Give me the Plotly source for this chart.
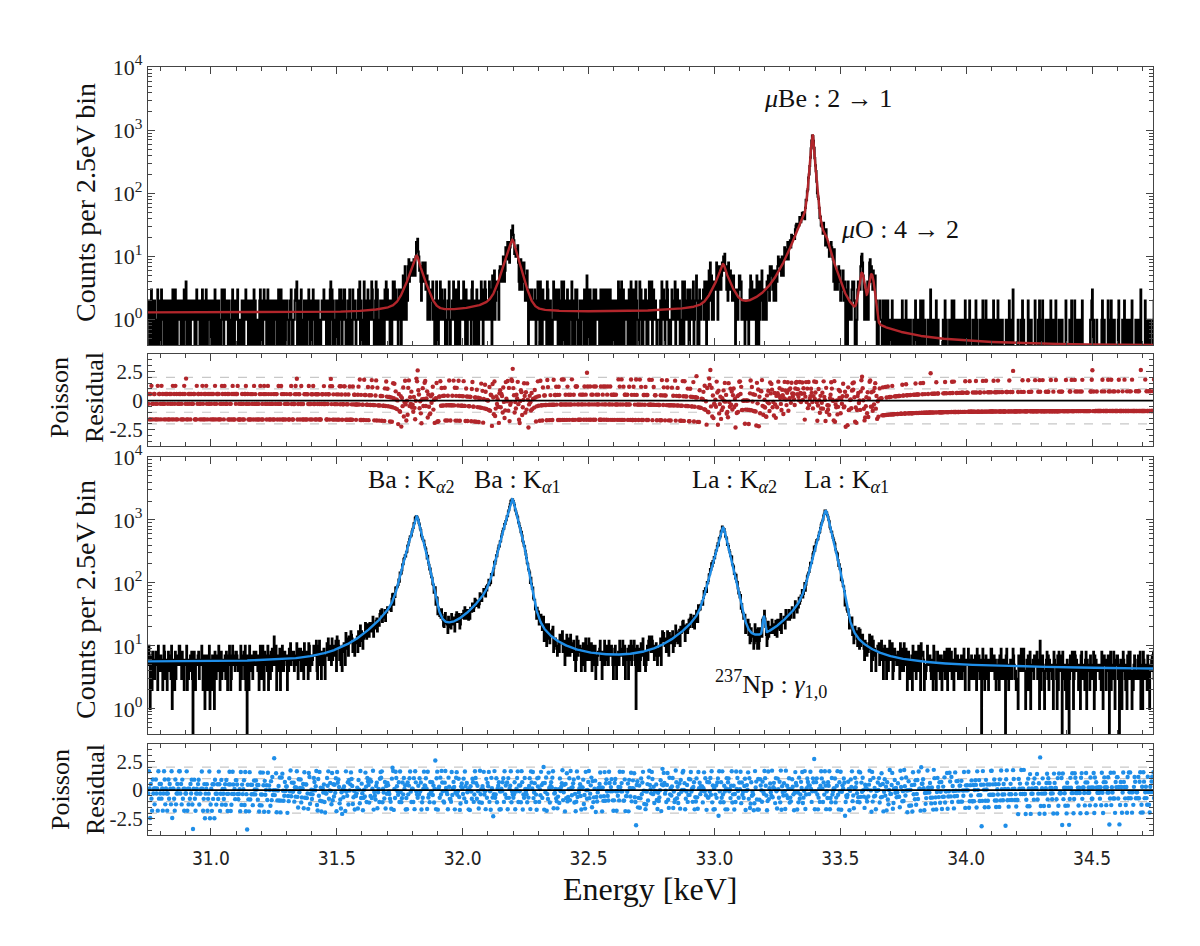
import math
import numpy as np
import plotly.graph_objects as go

# ---------------- data -----------------
E_LO, E_HI = 30.75, 34.75
BIN_KEV = 0.0025
N_BINS = 1600

# per-bin Poisson quantile readings (digit d -> (d+0.5)/10 ; a,b,y,z = extreme lows/highs)
# one line = 0.1 keV = 40 bins
TOP_Q = [
    "4817295036 7140592863 1958304726 6302847159",
    "2749160538 5813062974 y041738265 3586201947",
    "7305829416 0694273581 4628059137 8172503964",
    "1963457082 3508916274 6791320458 0426795381",
    "5280736194 8235140697 2317964805 9614083527",
    "0847613952 4961728305 7530286941 235897y146",
    "6139504287 1726394058 0894517263 7041256839",
    "3572048619 y480615327 5162839704 4897031562",
    "8024193765 2357849160 3409671528 1635798240",
    "4691852037 7063218495 8275046139 5928614073",
    "2706381594 0518936472 416305y9z8 7241068359",
    "9358064127 3682415790 1057928463 6814307295",
    "1437295806 8149603725 6y23185074 3570892416",
    "6082514739 2705398146 4381760952 9126453078",
    "3761840295 5928034y9z 8614275930 0487135962",
    "7295036418 1463870259 3709541826 6251984037",
    "0514927683 6087143925 9246308571 4739026518",
    "8940316257 3719562z84 0582637194 2865473109",
    "2379058416 9245817306 7136405928 5092381674",
    "5603841972 0874296531 2948150763 861703y245",
    "9148267305 4531709628 6075983142 1384652907",
    "3826704159 7196352840 1853269047 7y50418326",
    "6471935082 2y9z380614 4529708136 0263849571",
    "1095384726 8350417269 9782154603 5416027938",
    "4732610958 0627893145 3016485297 9825174063",
    "7968542871 6985379286 8497675389 9786597479",
    "5870694829 3568742695 7940385162 4729650813",
    "2316798540 9042513867 1537924806 6081345279",
    "8950213674 5279y85301 4628059y37 3174892605",
    "0687452913 1836094752 7093218546 2458703196",
    "6203987145 4710258369 2865741930 8932615047",
    "345z170826 7395682014 5048369271 1506473982",
    "9014836257 0268475193 8761290435 6347198520",
    "1782049563 5940736128 3219584706 9075326814",
    "5326781094 8157z20346 6475013829 2830641597",
    "8657023419 2413869705 0926437158 7162905384",
    "2091564738 6784315092 4350871962 0498537126",
    "7438915620 3056142879 z183026745 4615289037",
    "0265398471 9627083514 1794650283 3952074618",
    "4819650327 1382756z40 6502917348 5286413790",
]

BOT_Q = [
    "395b720846 1583609274 7260498153 04827619b5",
    "6208147359 9471825063 3905162748 1a58204637",
    "8143596027 b4670239b1 50726b8413 7296048153",
    "2571830469 6013974528 8642350917 3581904a72",
    "0926471385 3857260194 1497083562 9064172835",
    "z359024618 0289513746 6031859274 4715369208",
    "4681357092 7624098135 2358746910 8392501647",
    "1034869257 5192736480 97861204b5 2650943718",
    "5798612403 3460851927 4025396187 6183725904",
    "3267045189 8915427063 76432108y9 0529864371",
    "9412738560 2073689415 5180974326 3847012596",
    "6850923174 473615z089 0562839741 1795430862",
    "2193576048 9348201675 3829617450 5064287139",
    "8726401935 1659340827 69140852b3 9238156704",
    "0547819362 7082569143 2370458916 4619703285",
    "4315268097 5924713086 81539627y0 7480329516",
    "7689034521 0351846792 4607291358 2953678140",
    "1928457306 6813094257 9246807135 8031465792",
    "5062391784 3297568410 1785043629 6574912803",
    "3470862915 85931a6702 6028379514 0147289653",
    "9836154720 4125807y69 7451692083 5368041297",
    "2613708459 9570246138 3894516702 1820957364",
    "6159483072 2748391605 036278b941 7293164058",
    "0784526913 6031958427 5917342680 4659280173",
    "4301967208 0286517439 8630192574 3926751840",
    "8527190643 7409362581 2158630497 6041823759",
    "1249035876 36951487z0 4783025169 8517396042",
    "7690218345 5812693074 9046587b13 2375048691",
    "3058674129 1937485206 6215379840 9182630457",
    "5816392704 8360721594 3790158462 4723096815",
    "2963840571 4517093628 14829650y7 7850412396",
    "6472153098 1304862715 7036281549 0259738164",
    "0395728146 6281539407 5649017382 2714860953",
    "8137a29650 2856104739 9473826015 3608195427",
    "46a8915032 7315986240 1208573964 5943027186",
    "1904637285 5692470z13 6831045792 8176352409",
    "7562081934 38a9264150 715a286394 0298473615",
    "3089256417 9074531862 2690817543 6425193078",
    "5716384a29 1643920758 836a175049 7531608294",
    "9240516873 4538279016 0972463185 1064785932",
]

# fitted-model parameters (energies/widths in keV)
XRAY_NAMES = ["Ba Ka2", "Ba Ka1", "La Ka2", "La Ka1"]
XRAY_E = [31.817, 32.197, 33.034, 33.442]
TOP_XRAY_A = [9.0, 17.0, 6.0, 11.0]
BOT_XRAY_A = [1130.0, 2130.0, 750.0, 1390.0]
XRAY_SHAPE = [0.013, 0.032, 0.58]        # lorentz gamma, gauss sigma, lorentz fraction
XRAY_TAIL = [0.075, 0.085]               # low-energy tail fraction, decay
NP_LINE = [33.196, 14.0, 0.004]          # centre, amplitude, sigma
BOT_BG = [5.45, -0.31]                   # offset at 30.75 keV, slope per keV
TOP_BG = [1.30, 0.38]                    # below / above muBe line
MUBE_LINE = [33.390, 850.0, 0.0065, 0.012, 0.85]
MUBE_TAIL = [79.0, 0.040]
MUO_E = [33.586, 33.624]
MUO_A = [4.3, 4.3]
MUO_SIG = 0.010

QMAP = {"a": 0.001, "b": 0.015, "y": 0.975, "z": 0.997}


def pvoigt(E, c, A, gam, sig, eta):
    d = E - c
    return A * (eta / (1 + (d / gam) ** 2) + (1 - eta) * np.exp(-d * d / (2 * sig * sig)))


def low_tail(E, c, A, frac, tau):
    d = E - c
    return A * frac * np.exp(np.minimum(d, 0) / tau) / (1 + np.exp((d + 0.03) / 0.01))


def top_model(E):
    E = np.asarray(E, float)
    c = MUBE_LINE[0]
    m = TOP_BG[0] + (TOP_BG[1] - TOP_BG[0]) * 0.5 * (1 + np.tanh((E - c) / 0.005))
    for e0, a in zip(XRAY_E, TOP_XRAY_A):
        m = m + pvoigt(E, e0, a, *XRAY_SHAPE) + low_tail(E, e0, a, *XRAY_TAIL)
    m = m + pvoigt(E, c, MUBE_LINE[1], MUBE_LINE[2], MUBE_LINE[3], MUBE_LINE[4])
    d = E - c
    m = m + MUBE_TAIL[0] * np.exp(np.minimum(d, 0) / MUBE_TAIL[1]) / (1 + np.exp((d + 0.035) / 0.008))
    for e0, a in zip(MUO_E, MUO_A):
        m = m + a * np.exp(-(E - e0) ** 2 / (2 * MUO_SIG ** 2))
    return m


def bot_model(E):
    E = np.asarray(E, float)
    m = BOT_BG[0] + BOT_BG[1] * (E - E_LO)
    for e0, a in zip(XRAY_E, BOT_XRAY_A):
        m = m + pvoigt(E, e0, a, *XRAY_SHAPE) + low_tail(E, e0, a, *XRAY_TAIL)
    m = m + NP_LINE[1] * np.exp(-(E - NP_LINE[0]) ** 2 / (2 * NP_LINE[2] ** 2))
    return m


def norm_ppf(u):
    lo, hi = -9.0, 9.0
    for _ in range(70):
        mid = 0.5 * (lo + hi)
        if 0.5 * (1 + math.erf(mid / math.sqrt(2))) < u:
            lo = mid
        else:
            hi = mid
    return 0.5 * (lo + hi)


def pois_quantile(u, mu):
    if mu < 60:
        k = 0
        p = math.exp(-mu)
        c = p
        while c < u and k < 2000:
            k += 1
            p *= mu / k
            c += p
        return k
    return max(0, int(round(mu + norm_ppf(u) * math.sqrt(mu))))


def decode(lines, model):
    s = "".join(l.replace(" ", "") for l in lines)
    s = (s + "5" * N_BINS)[:N_BINS]
    u = [QMAP[ch] if ch in QMAP else (int(ch) + 0.5) / 10 for ch in s]
    centers = E_LO + BIN_KEV * (np.arange(N_BINS) + 0.5)
    mu = model(centers)
    n = np.array([pois_quantile(ui, mi) for ui, mi in zip(u, mu)])
    return centers, mu, n


def deviance(n, mu):
    n = n.astype(float)
    with np.errstate(divide="ignore", invalid="ignore"):
        t = np.where(n > 0, n * np.log(np.where(n > 0, n, 1) / mu), 0.0)
    val = 2 * (mu - n + t)
    return np.sign(n - mu) * np.sqrt(np.maximum(val, 0))


edges = E_LO + BIN_KEV * np.arange(N_BINS + 1)
c_top, mu_top, n_top = decode(TOP_Q, top_model)
c_bot, mu_bot, n_bot = decode(BOT_Q, bot_model)
r_top = deviance(n_top, mu_top)
r_bot = deviance(n_bot, mu_bot)

E_fine = np.linspace(E_LO, E_HI, 4001)

# --------------- layout helpers ---------------
PL, PR, PT, PB = 148, 1153, 67, 835


def fx(px):
    return (px - PL) / (PR - PL)


def fy(py):
    return 1 - (py - PT) / (PB - PT)


RED = "#b2262b"
BLUE = "#1f8ee8"
AXC = "#444444"
SERIF = "Liberation Serif, Times New Roman, serif"
NARROW = "Liberation Sans Narrow, DejaVu Sans Condensed, Liberation Sans, sans-serif"


def step_xy(n):
    y = np.where(n > 0, n, 1e-3).astype(float)
    return edges, np.append(y, y[-1])


fig = go.Figure()

xs, ys = step_xy(n_top)
fig.add_trace(go.Scatter(x=xs, y=ys, mode="lines", line=dict(color="black", width=2.2, shape="hv"),
                         xaxis="x", yaxis="y", hoverinfo="skip", showlegend=False))
fig.add_trace(go.Scatter(x=E_fine, y=top_model(E_fine), mode="lines", line=dict(color=RED, width=2.4),
                         xaxis="x", yaxis="y", showlegend=False))
fig.add_trace(go.Scatter(x=c_top, y=r_top, mode="markers", marker=dict(color=RED, size=4.4),
                         xaxis="x2", yaxis="y2", showlegend=False))

xs, ys = step_xy(n_bot)
fig.add_trace(go.Scatter(x=xs, y=ys, mode="lines", line=dict(color="black", width=2.2, shape="hv"),
                         xaxis="x3", yaxis="y3", hoverinfo="skip", showlegend=False))
fig.add_trace(go.Scatter(x=E_fine, y=bot_model(E_fine), mode="lines", line=dict(color=BLUE, width=2.4),
                         xaxis="x3", yaxis="y3", showlegend=False))
fig.add_trace(go.Scatter(x=c_bot, y=r_bot, mode="markers", marker=dict(color=BLUE, size=4.4),
                         xaxis="x4", yaxis="y4", showlegend=False))

X_RANGE = [30.75, 34.742]
xcommon = dict(range=X_RANGE, ticks="inside", ticklen=7, tickwidth=1, tickcolor=AXC,
               tick0=31.0, dtick=0.5, tickformat=".1f", showline=True, linecolor=AXC, linewidth=1.2,
               mirror="allticks", showgrid=False, zeroline=False,
               minor=dict(ticks="inside", ticklen=4, dtick=0.1, tickcolor=AXC, showgrid=False))

log_minor = [m * 10 ** k for k in range(-1, 4) for m in range(2, 10)]
ylog = dict(type="log", range=[-0.4, 4.0], tickmode="array",
            tickvals=[1, 10, 100, 1000, 10000],
            ticktext=["10<sup>0</sup>", "10<sup>1</sup>", "10<sup>2</sup>", "10<sup>3</sup>", "10<sup>4</sup>"],
            ticks="inside", ticklen=7, tickcolor=AXC, showline=True, linecolor=AXC, linewidth=1.2,
            mirror="allticks", showgrid=False, zeroline=False,
            tickfont=dict(family=SERIF, size=22, color="#222"),
            minor=dict(tickmode="array", tickvals=log_minor, ticks="inside", ticklen=4, tickcolor=AXC))
yres = dict(range=[-3.9, 4.0], tickmode="array", tickvals=[-2.5, 0, 2.5], ticktext=["-2.5", "0", "2.5"],
            ticks="inside", ticklen=7, tickcolor=AXC, showline=True, linecolor=AXC, linewidth=1.2,
            mirror="allticks", showgrid=False, zeroline=False,
            tickfont=dict(family=SERIF, size=21, color="#222"),
            minor=dict(ticks="inside", ticklen=4, dtick=0.5, tick0=0, tickcolor=AXC))

layout = dict(
    width=1200, height=946, margin=dict(l=PL, r=1200 - PR, t=PT, b=946 - PB),
    paper_bgcolor="white", plot_bgcolor="white", showlegend=False,
    xaxis=dict(xcommon, anchor="y", showticklabels=False),
    xaxis2=dict(xcommon, anchor="y2", matches="x", showticklabels=False),
    xaxis3=dict(xcommon, anchor="y3", matches="x", showticklabels=False),
    xaxis4=dict(xcommon, anchor="y4", matches="x", showticklabels=True, ticklabelstandoff=6,
                tickfont=dict(family=NARROW, size=19, color="#222")),
    yaxis=dict(ylog, domain=[fy(345), fy(67)], anchor="x"),
    yaxis2=dict(yres, domain=[fy(446), fy(354)], anchor="x2"),
    yaxis3=dict(ylog, domain=[fy(734), fy(457)], anchor="x3"),
    yaxis4=dict(yres, domain=[fy(835), fy(744)], anchor="x4"),
)
fig.update_layout(**layout)

shapes = []
for yr, xr in (("y2", "x2"), ("y4", "x4")):
    for v in (-2, -1, 1, 2):
        shapes.append(dict(type="line", xref=xr + " domain", yref=yr, x0=0, x1=1, y0=v, y1=v,
                           line=dict(color="#c8c8c8", width=1.2, dash="dash"), layer="below"))
    shapes.append(dict(type="line", xref=xr + " domain", yref=yr, x0=0, x1=1, y0=0, y1=0,
                       line=dict(color="black", width=1.8), layer="above"))
fig.update_layout(shapes=shapes)

ann = []


def txt(t, px, py, size=22, angle=0, family=SERIF):
    ann.append(dict(text=t, x=fx(px), y=fy(py), xref="paper", yref="paper", showarrow=False,
                    xanchor="center", yanchor="middle", textangle=angle,
                    font=dict(family=family, size=size, color="#111")))


txt("<i>μ</i>Be : 2 → 1", 828, 98, size=26)
txt("<i>μ</i>O : 4 → 2", 900, 229, size=26)
txt("Ba : K<sub><i>α</i>2</sub>", 411, 481, size=26)
txt("Ba : K<sub><i>α</i>1</sub>", 517, 481, size=26)
txt("La : K<sub><i>α</i>2</sub>", 734, 481, size=26)
txt("La : K<sub><i>α</i>1</sub>", 846, 481, size=26)
txt("<sup>237</sup>Np : <i>γ</i><sub>1,0</sub>", 771, 684, size=26)
txt("Counts per 2.5eV bin", 85, 203, size=28, angle=-90)
txt("Counts per 2.5eV bin", 85, 600, size=28, angle=-90)
txt("Poisson", 60, 398, size=26, angle=-90)
txt("Residual", 95, 398, size=26, angle=-90)
txt("Poisson", 60, 790, size=26, angle=-90)
txt("Residual", 95, 790, size=26, angle=-90)
txt("Energy [keV]", 650, 889, size=32)
fig.update_layout(annotations=ann)

fig.write_html("out.html")
